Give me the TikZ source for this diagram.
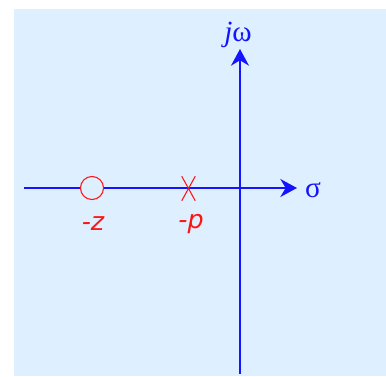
\documentclass[tikz,border=0pt]{standalone}
\usepackage{fontspec}
\setmainfont{Liberation Serif}
\newfontfamily\labfont{DejaVu Sans}
\usetikzlibrary{arrows.meta}
\definecolor{bgblue}{RGB}{222,240,255}
\definecolor{axblue}{RGB}{20,20,255}
\definecolor{pzred}{RGB}{255,20,20}
\tikzset{
  axis/.style={draw=axblue, line width=1.1pt, -{Stealth[length=12.5pt,width=13.5pt,inset=4pt]}},
  pz/.style={draw=pzred, line width=0.8pt},
  axlab/.style={text=axblue, font=\fontsize{22}{24}\selectfont, inner sep=0pt},
  pzlab/.style={text=pzred, font=\labfont\itshape\fontsize{19}{21}\selectfont, inner sep=0pt}
}
\begin{document}
\begin{tikzpicture}[x=0.75pt,y=-0.75pt]
\useasboundingbox (0,0) rectangle (386,376);
\fill[bgblue] (14,9) rectangle (386,376);
\coordinate (hl) at (24,188);
\coordinate (hr) at (297,188);
\coordinate (vb) at (240,374);
\coordinate (vt) at (240,49);
\draw[axis] (hl) -- (hr);
\draw[axis] (vb) -- (vt);
\node[pz, circle, minimum size=17.3pt, inner sep=0pt, fill=bgblue] (zero) at (92,188) {};
\node[inner sep=0pt, minimum width=9.75pt, minimum height=18pt] (pole) at (188.5,188.5) {};
\draw[pz] (pole.north west) -- (pole.south east);
\draw[pz] (pole.north east) -- (pole.south west);
\node[pzlab] (zl) at (93,224) {-z};
\node[pzlab] (pl) at (191,224) {-p};
\node[axlab] (sig) at (313,190) {σ};
\node[axlab] (jw) at (238,35) {\textit{j}ω};
\end{tikzpicture}
\end{document}
